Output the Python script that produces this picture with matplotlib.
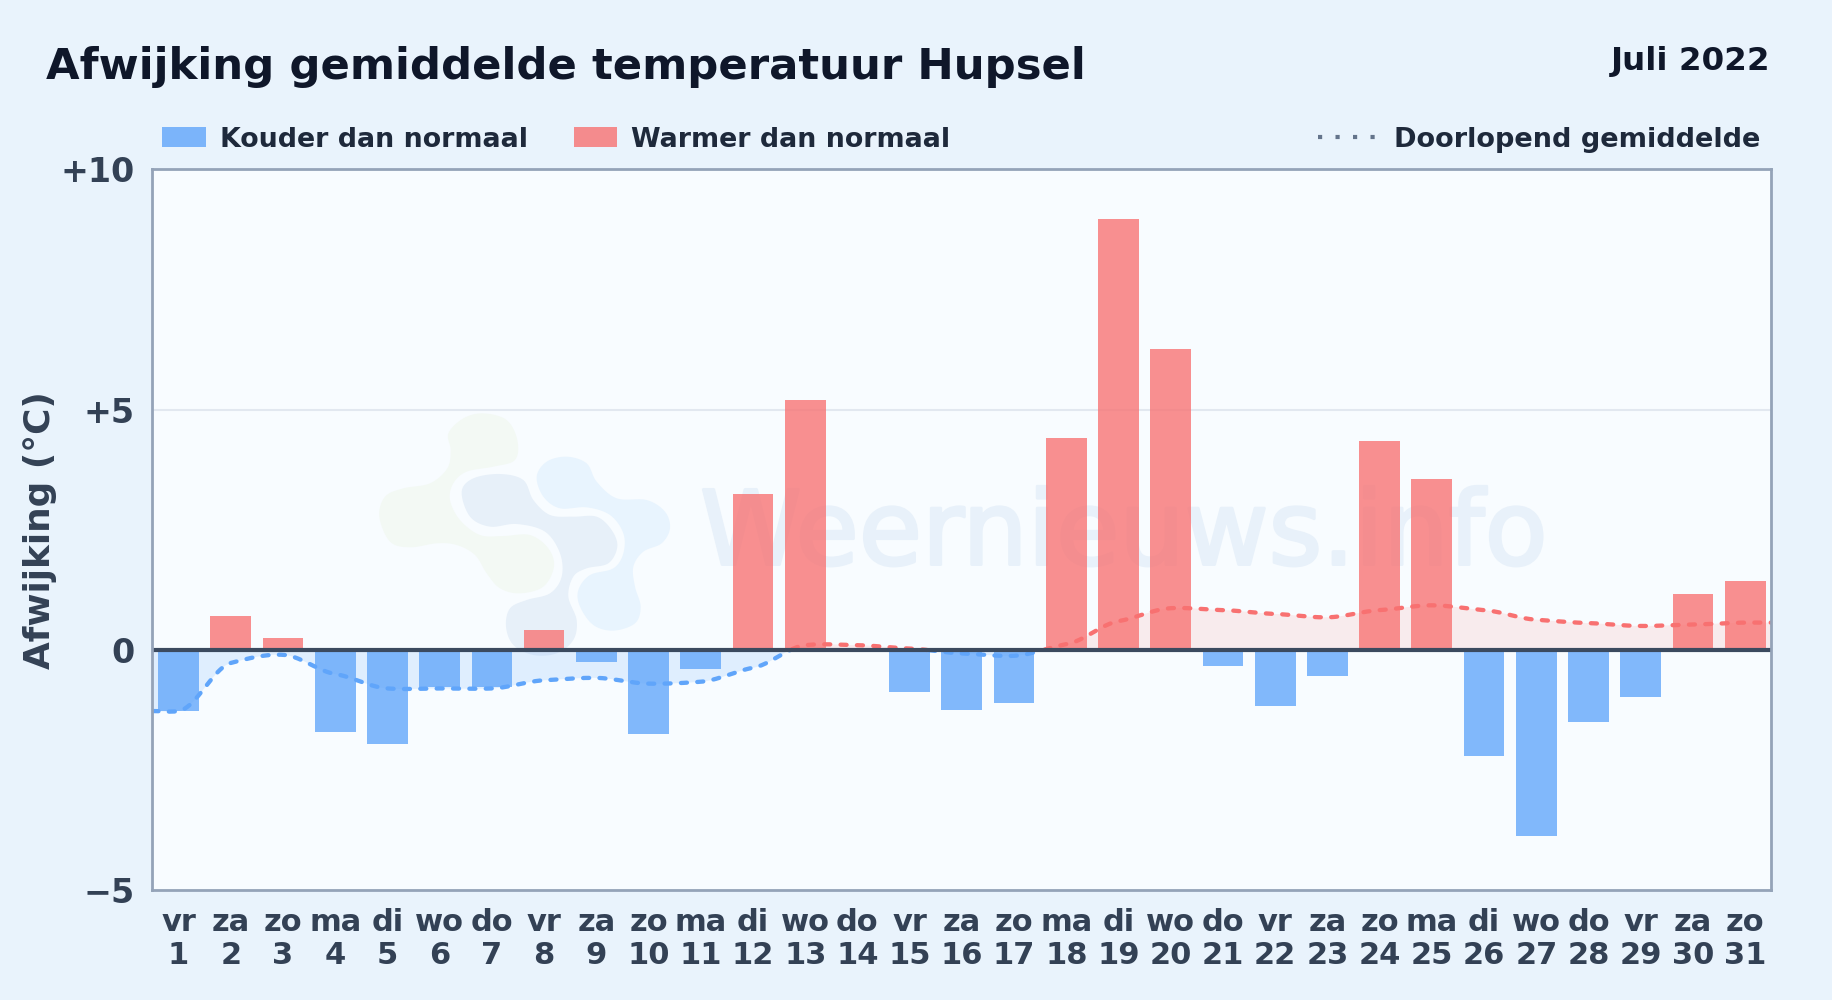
#!/usr/bin/env python
"""
Afwijking gemiddelde temperatuur Hupsel, juli 2022.
"""

import numpy as np
import matplotlib
matplotlib.use('Agg')
import matplotlib.pyplot as plt
from matplotlib.lines import Line2D
from matplotlib.patches import Rectangle
import matplotlib.patheffects as pe

W, H = 1832, 1000
SCALE = W / 1568.

weekdays = ['vr', 'za', 'zo', 'ma', 'di', 'wo', 'do',
            'vr', 'za', 'zo', 'ma', 'di', 'wo', 'do',
            'vr', 'za', 'zo', 'ma', 'di', 'wo', 'do',
            'vr', 'za', 'zo', 'ma', 'di', 'wo', 'do',
            'vr', 'za', 'zo']
days = list(range(1, 32))
deviation = [-1.27, 0.70, 0.25, -1.70, -1.95, -0.78, -0.78,
             0.42, -0.24, -1.75, -0.40, 3.25, 5.20, 0.0,
             -0.88, -1.25, -1.10, 4.42, 8.97, 6.27, -0.33,
             -1.17, -0.55, 4.35, 3.55, -2.20, -3.87, -1.50,
             -0.97, 1.17, 1.43]
running_mean = [-1.27, -0.27, -0.10, -0.50, -0.80, -0.80, -0.80,
                -0.63, -0.58, -0.70, -0.66, -0.37, 0.10, 0.10,
                0.03, -0.07, -0.12, 0.12, 0.60, 0.87, 0.83,
                0.75, 0.68, 0.83, 0.93, 0.83, 0.63, 0.56,
                0.50, 0.53, 0.57]
y_ticks = [-5, 0, 5, 10]
y_labels = ['\u22125', '0', '+5', '+10']

BLUE = '#60A5FA'
RED = '#F87171'

# watermark logo outlines, traced at 3x from (360, 400) in the picture
logo_green = [(265, 100), (310, 55), (370, 40), (440, 60), (472, 120), (465, 180),
              (400, 200), (320, 215), (280, 250), (270, 300), (300, 360), (360, 405),
              (430, 408), (510, 405), (565, 445), (582, 500), (550, 560), (480, 580),
              (420, 565), (380, 520), (345, 465), (290, 435), (230, 430), (150, 442),
              (90, 425), (58, 350), (75, 290), (130, 265), (210, 250), (262, 205),
              (272, 150)]
logo_dark = [(305, 275), (340, 235), (420, 222), (490, 240), (520, 300), (570, 345),
             (640, 350), (710, 350), (755, 390), (772, 440), (745, 490), (680, 505),
             (640, 530), (625, 590), (650, 660), (640, 720), (590, 760), (520, 765),
             (460, 735), (438, 680), (450, 625), (500, 600), (570, 580), (605, 530),
             (600, 460), (555, 395), (470, 372), (390, 380), (330, 350)]
logo_light = [(530, 230), (560, 185), (620, 170), (680, 190), (710, 245), (770, 295),
              (860, 300), (915, 335), (930, 385), (905, 430), (850, 455), (820, 500),
              (825, 560), (842, 620), (825, 670), (760, 692), (700, 675), (660, 620),
              (655, 570), (690, 525), (760, 505), (790, 460), (790, 400), (750, 345),
              (680, 322), (600, 325), (550, 290)]


def hermite(x, y, slopes, per_segment=24):
    """
    Cubic through the points with the given slopes, only for drawing.
    """
    xs, ys = [], []
    for i in range(len(x) - 1):
        t = np.linspace(0, 1, per_segment, endpoint=False)
        h = x[i + 1] - x[i]
        ys.append((2*t**3 - 3*t**2 + 1) * y[i]
                  + (t**3 - 2*t**2 + t) * h * slopes[i]
                  + (-2*t**3 + 3*t**2) * y[i + 1]
                  + (t**3 - t**2) * h * slopes[i + 1])
        xs.append(x[i] + t * h)
    return np.r_[np.concatenate(xs), x[-1]], np.r_[np.concatenate(ys), y[-1]]


def smooth(x, y, tension=0.5):
    """Curve through the running mean"""
    x = np.asarray(x, dtype=float)
    y = np.asarray(y, dtype=float)
    return hermite(x, y, np.gradient(y, x) * tension)


def smooth_closed(points):
    """Closed rounded outline for one logo shape, in picture pixels"""
    pts = np.array(points, dtype=float)
    px = 360 + pts[:, 0] / 3.
    py = 400 + pts[:, 1] / 3.
    t = np.arange(len(pts) + 1, dtype=float)
    out = []
    for v in (px, py):
        vals = np.r_[v, v[0]]
        slopes = (np.roll(v, -1) - np.roll(v, 1)) / 2.
        out.append(hermite(t, vals, np.r_[slopes, slopes[0]], 8)[1])
    return out


def fx(x):
    """x in reference picture pixels (1568 wide) to figure fraction"""
    return x * SCALE / W


def fy(y):
    """y in reference picture pixels, from the top, to figure fraction"""
    return 1 - y * SCALE / H


def main():
    fig = plt.figure(figsize=(W / 100, H / 100), dpi=100, facecolor='#E9F3FC')
    ax = fig.add_axes([fx(130.5), fy(762), fx(1516) - fx(130.5), fy(145) - fy(762)])
    ax.set_facecolor('#F8FCFF')

    # watermark, drawn under the bars
    ax.text(19.1, 1.78, 'Weernieuws.info', ha='center', va='baseline',
            fontsize=74, color='#E8F1FA', zorder=0.5, family='DejaVu Sans',
            path_effects=[pe.withStroke(linewidth=2.2, foreground='#E8F1FA')])
    logo = ax.inset_axes([0, 0, 1, 1], zorder=0.4)
    logo.axis('off')
    logo.set_xlim(130.5 * SCALE, 1516 * SCALE)
    logo.set_ylim(762 * SCALE, 145 * SCALE)
    for outline, color in ((logo_green, '#F3F9F4'), (logo_light, '#E8F4FE'),
                           (logo_dark, '#E7F0F9')):
        lx, ly = smooth_closed(outline)
        logo.fill(lx, ly, color=color, lw=0)

    ax.axhline(5, color='#E2E8F0', lw=1.5, zorder=1)

    values = np.array(deviation)
    colors = [RED if v > 0 else BLUE for v in values]
    ax.bar(days, values, width=0.78, color=colors, alpha=0.78, zorder=3, linewidth=0)

    # the running mean starts and stops on the edges of the axes
    x_line = [0.5] + days + [31.5]
    y_line = [running_mean[0]] + running_mean + [running_mean[-1]]
    xs, ys = smooth(x_line, y_line)
    ax.fill_between(xs, ys, 0, where=ys <= 0, interpolate=True,
                    color=BLUE, alpha=0.16, lw=0, zorder=2)
    ax.fill_between(xs, ys, 0, where=ys >= 0, interpolate=True,
                    color=RED, alpha=0.12, lw=0, zorder=2)
    below = np.where(ys <= 0, ys, np.nan)
    above = np.where(ys >= 0, ys, np.nan)
    for line, color in ((below, BLUE), (above, RED)):
        ax.plot(xs, line, color=color, lw=3.1, zorder=4,
                dashes=(1.4, 2.4), dash_capstyle='round')

    ax.axhline(0, color='#3B4A5F', lw=3.0, zorder=5)

    ax.set_xlim(0.5, 31.5)
    ax.set_ylim(-5, 10)
    ax.set_yticks(y_ticks)
    ax.set_yticklabels(y_labels)
    ax.set_xticks(days)
    ax.set_xticklabels(['%s\n%d' % (w, d) for w, d in zip(weekdays, days)],
                       linespacing=1.2)
    ax.tick_params(axis='x', length=0, labelsize=22, labelcolor='#334155', pad=12.5)
    ax.tick_params(axis='y', length=0, labelsize=24, labelcolor='#334155', pad=13)
    for label in ax.get_xticklabels() + ax.get_yticklabels():
        label.set_fontweight('bold')
    for spine in ax.spines.values():
        spine.set_color('#94A3B8')
        spine.set_linewidth(2.0)
        spine.set_zorder(6)

    ax.set_ylabel('Afwijking (\u00b0C)', fontsize=25.8, fontweight='bold', color='#334155')
    ax.yaxis.set_label_coords(fx(49), fy(454), transform=fig.transFigure)

    fig.text(fx(39), fy(57), 'Afwijking gemiddelde temperatuur Hupsel', fontsize=31.2,
             fontweight='bold', color='#0F172A', va='center', ha='left')
    fig.text(fx(1515), fy(52.5), 'Juli 2022', fontsize=23.4, fontweight='bold',
             color='#0F172A', va='center', ha='right')

    # legend, placed by hand like the original
    for x0, color, name in ((139, BLUE, 'Kouder dan normaal'),
                            (491, RED, 'Warmer dan normaal')):
        fig.add_artist(Rectangle((fx(x0), fy(125.5)), fx(37), fy(108.5) - fy(125.5),
                                 transform=fig.transFigure, facecolor=color,
                                 alpha=0.8, lw=0))
        fig.text(fx(x0 + 49), fy(119.5), name, fontsize=19.4, fontweight='bold',
                 color='#1E293B', va='center', ha='left')
    fig.add_artist(Line2D([fx(1128), fx(1180)], [fy(117), fy(117)], color='#64748B',
                          lw=3, dashes=(1, 3.2), dash_capstyle='butt'))
    fig.text(fx(1507), fy(119.5), 'Doorlopend gemiddelde', fontsize=19.5, fontweight='bold',
             color='#1E293B', va='center', ha='right')

    fig.savefig('out.png', dpi=100, facecolor=fig.get_facecolor())


if __name__ == "__main__":
    main()
